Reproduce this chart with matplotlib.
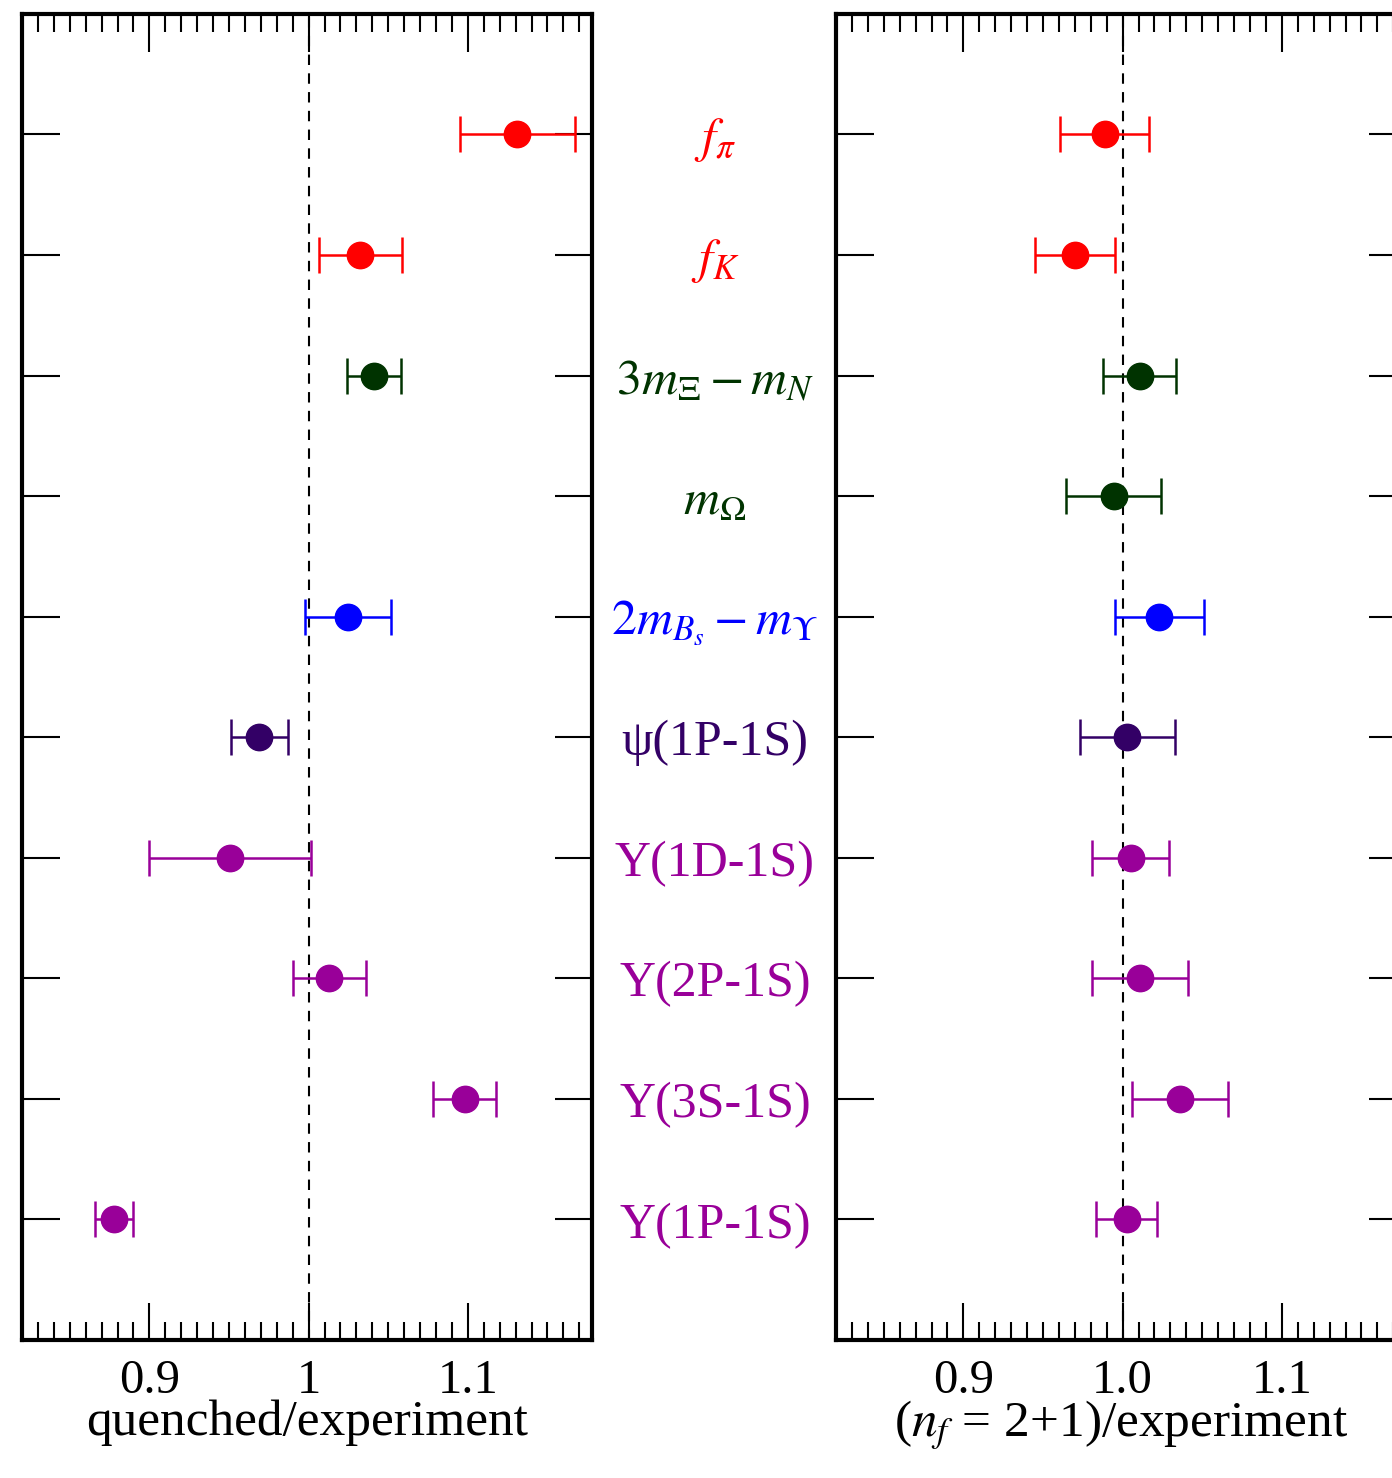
import matplotlib
matplotlib.use("Agg")
import matplotlib.pyplot as plt
from matplotlib.transforms import blended_transform_factory
from matplotlib.ticker import MultipleLocator, FixedLocator

plt.rcParams['font.family'] = ['Liberation Serif', 'DejaVu Serif']
plt.rcParams['mathtext.fontset'] = 'stix'

# observables, top to bottom
labels = [r'$f_\pi$', r'$f_K$', r'$3m_\Xi - m_N$', r'$m_\Omega$',
          r'$2m_{B_s} - m_\Upsilon$', 'ψ(1P-1S)', 'Υ(1D-1S)',
          'Υ(2P-1S)', 'Υ(3S-1S)', 'Υ(1P-1S)']
colors = ['#ff0000', '#ff0000', '#003300', '#003300', '#0000ff',
          '#330066', '#990099', '#990099', '#990099', '#990099']

# quenched/experiment (no m_Omega point)
quenched = [1.131, 1.0325, 1.041, None, 1.025, 0.969, 0.9506, 1.013, 1.098, 0.878]
quenched_err = [0.036, 0.026, 0.017, None, 0.027, 0.018, 0.051, 0.023, 0.020, 0.012]

# (nf = 2+1)/experiment
unquenched = [0.9887, 0.970, 1.0107, 0.9944, 1.023, 1.003, 1.005, 1.011, 1.036, 1.0025]
unquenched_err = [0.028, 0.025, 0.023, 0.030, 0.028, 0.030, 0.024, 0.030, 0.030, 0.019]

left_ticklabels = ['0.9', '1', '1.1']
right_ticklabels = ['0.9', '1.0', '1.1']


def style_axes(ax, ticklabels, xlabel):
    ax.set_xlim(0.82, 1.178)
    ax.set_ylim(10, -1)
    ax.xaxis.set_major_locator(FixedLocator([0.9, 1.0, 1.1]))
    ax.set_xticklabels(ticklabels, fontsize=35)
    ax.xaxis.set_minor_locator(MultipleLocator(0.01))
    ax.set_yticks(range(len(labels)))
    ax.set_yticklabels([])
    ax.tick_params(axis='x', which='major', direction='in', top=True, bottom=True,
                   length=27, width=1.5, pad=14)
    ax.tick_params(axis='x', which='minor', direction='in', top=True, bottom=True,
                   length=13, width=1.5)
    ax.tick_params(axis='y', which='major', direction='in', left=True, right=True,
                   length=27, width=1.5)
    for sp in ax.spines.values():
        sp.set_linewidth(3)
    ax.axvline(1.0, color='k', lw=1.5, ls=(0, (5, 4)), zorder=1)
    ax.set_xlabel(xlabel, fontsize=37, labelpad=-3)


def draw_points(ax, vals, errs):
    for i, (v, e) in enumerate(zip(vals, errs)):
        if v is None:
            continue
        ax.errorbar(v, i, xerr=e, fmt='o', color=colors[i], ms=19,
                    elinewidth=1.8, capsize=13, capthick=1.8, zorder=3)


fig = plt.figure(figsize=(13.92, 14.78), dpi=100)
ax1 = fig.add_axes([0.0158, 0.0934, 0.4095, 0.8972])
ax2 = fig.add_axes([0.6006, 0.0934, 0.4095, 0.8972])

style_axes(ax1, left_ticklabels, 'quenched/experiment')
style_axes(ax2, right_ticklabels, r'($n_f$ = 2+1)/experiment')

draw_points(ax1, quenched, quenched_err)
draw_points(ax2, unquenched, unquenched_err)

trans = blended_transform_factory(fig.transFigure, ax1.transData)
for i, lab in enumerate(labels):
    ax1.text(0.5136, i + 0.05, lab, transform=trans, ha='center', va='center',
             fontsize=36, color=colors[i], clip_on=False)

fig.savefig('out.png', dpi=100)
